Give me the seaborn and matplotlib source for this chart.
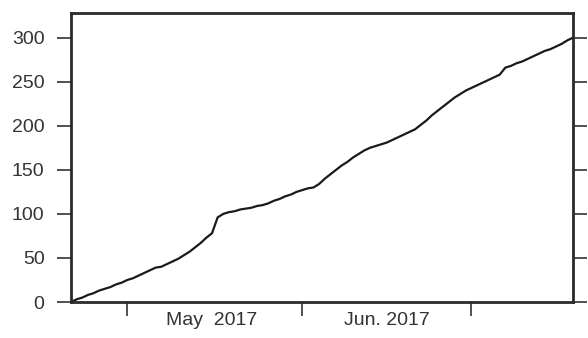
"""Cumulative count over time, step line."""

import matplotlib

matplotlib.use("Agg")
import matplotlib.pyplot as plt
import pandas as pd
import seaborn as sns

start_date = "2017-04-21"
cumulative = [
    0, 3, 5, 8, 10, 13, 15, 17, 20, 22,
    25, 27, 30, 33, 36, 39, 40, 43, 46, 49,
    53, 57, 62, 67, 73, 78, 96, 100, 102, 103,
    105, 106, 107, 109, 110, 112, 115, 117, 120, 122,
    125, 127, 129, 130, 134, 140, 145, 150, 155, 159,
    164, 168, 172, 175, 177, 179, 181, 184, 187, 190,
    193, 196, 201, 206, 212, 217, 222, 227, 232, 236,
    240, 243, 246, 249, 252, 255, 258, 266, 268, 271,
    273, 276, 279, 282, 285, 287, 290, 293, 297, 300,
]
month_ticks = ["2017-05-01", "2017-06-01", "2017-07-01"]
month_label_pos = ["2017-05-16", "2017-06-16"]
month_labels = ["May  2017", "Jun. 2017"]
y_ticks = [0, 50, 100, 150, 200, 250, 300]

df = pd.DataFrame({
    "date": pd.date_range(start_date, periods=len(cumulative), freq="D"),
    "count": cumulative,
})

sns.set_style("ticks")
plt.rcParams["font.family"] = ["Liberation Sans", "DejaVu Sans"]

fig = plt.figure(figsize=(5.88, 3.38), dpi=100)
ax = fig.add_axes([0.1207, 0.1065, 0.8538, 0.855])

sns.lineplot(data=df, x="date", y="count", ax=ax, color="#1a1a1a",
             linewidth=1.6)

ax.set_xlim(df["date"].iloc[0], df["date"].iloc[-1])
ax.set_ylim(0, 328)
ax.set_xlabel("")
ax.set_ylabel("")

ax.set_yticks(y_ticks)
ax.tick_params(axis="y", which="major", direction="out", length=10, width=1.2,
               labelsize=14, labelcolor="#333333", color="#333333",
               right=True, labelright=False, pad=9)

ax.set_xticks(pd.to_datetime(month_ticks))
ax.set_xticklabels([])
ax.set_xticks(pd.to_datetime(month_label_pos), minor=True)
ax.set_xticklabels(month_labels, minor=True)
ax.tick_params(axis="x", which="major", direction="out", length=10, width=1.2,
               color="#333333")
ax.tick_params(axis="x", which="minor", length=0, labelsize=14,
               labelcolor="#333333", pad=7)

for side in ["left", "right", "top", "bottom"]:
    ax.spines[side].set_visible(True)
    ax.spines[side].set_linewidth(2)
    ax.spines[side].set_color("#2a2a2a")

fig.savefig("out.png", dpi=100)
plt.close(fig)
